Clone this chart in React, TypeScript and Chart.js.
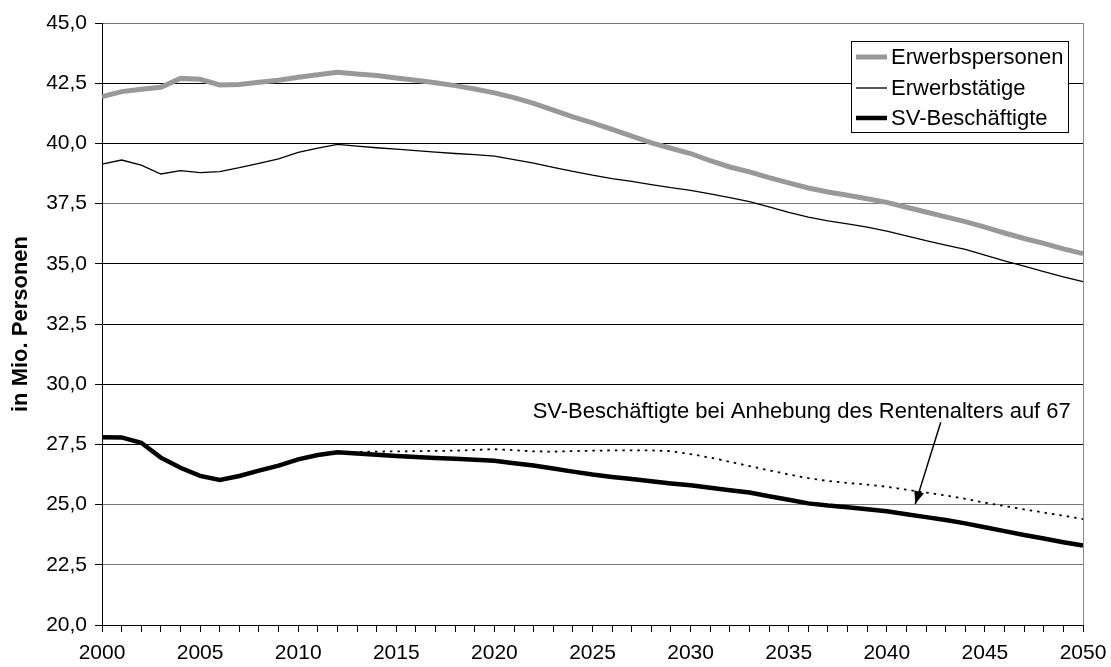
import React, { useEffect, useRef } from "react";
import { Chart, registerables } from "chart.js";

Chart.register(...registerables);

const years = [
  2000, 2001, 2002, 2003, 2004, 2005, 2006, 2007, 2008, 2009,
  2010, 2011, 2012, 2013, 2014, 2015, 2016, 2017, 2018, 2019,
  2020, 2021, 2022, 2023, 2024, 2025, 2026, 2027, 2028, 2029,
  2030, 2031, 2032, 2033, 2034, 2035, 2036, 2037, 2038, 2039,
  2040, 2041, 2042, 2043, 2044, 2045, 2046, 2047, 2048, 2049, 2050,
];

const erwerbspersonen = [
  41.94, 42.15, 42.25, 42.33, 42.70, 42.66, 42.43, 42.45, 42.54, 42.62,
  42.75, 42.85, 42.95, 42.88, 42.82, 42.72, 42.62, 42.52, 42.40, 42.26,
  42.10, 41.90, 41.66, 41.38, 41.10, 40.85, 40.58, 40.30, 40.02, 39.80,
  39.58, 39.28, 39.02, 38.82, 38.58, 38.36, 38.15, 37.98, 37.85, 37.70,
  37.55, 37.35, 37.15, 36.95, 36.75, 36.52, 36.28, 36.05, 35.85, 35.62, 35.42,
];

const erwerbstaetige = [
  39.14, 39.31, 39.10, 38.73, 38.87, 38.79, 38.83, 38.99, 39.17, 39.36,
  39.63, 39.80, 39.96, 39.89, 39.82, 39.76, 39.70, 39.64, 39.58, 39.53,
  39.47, 39.33, 39.18, 39.00, 38.84, 38.68, 38.54, 38.42, 38.29, 38.16,
  38.05, 37.90, 37.75, 37.58, 37.36, 37.14, 36.94, 36.78, 36.66, 36.52,
  36.36, 36.16, 35.96, 35.78, 35.60, 35.36, 35.12, 34.90, 34.68, 34.46, 34.26,
];

const svBeschaeftigte = [
  27.80, 27.79, 27.57, 26.95, 26.53, 26.19, 26.02, 26.19, 26.41, 26.62,
  26.88, 27.06, 27.17, 27.12, 27.07, 27.02, 26.98, 26.94, 26.90, 26.86,
  26.82, 26.72, 26.62, 26.50, 26.37, 26.25, 26.15, 26.06, 25.97, 25.88,
  25.80, 25.70, 25.60, 25.50, 25.35, 25.20, 25.05, 24.96, 24.89, 24.81,
  24.72, 24.60, 24.48, 24.36, 24.22, 24.06, 23.90, 23.74, 23.59, 23.44, 23.30,
];

const svRente67 = [
  null, null, null, null, null, null, null, null, null, null,
  null, null, 27.17, 27.19, 27.20, 27.21, 27.22, 27.23, 27.24, 27.27,
  27.30, 27.26, 27.21, 27.20, 27.22, 27.24, 27.25, 27.25, 27.25, 27.22,
  27.10, 26.95, 26.78, 26.60, 26.42, 26.25, 26.10, 25.98, 25.90, 25.83,
  25.74, 25.62, 25.50, 25.38, 25.24, 25.08, 24.94, 24.80, 24.67, 24.54, 24.40,
];

const legendLabels = ["Erwerbspersonen", "Erwerbstätige", "SV-Beschäftigte"];
const annotationText = "SV-Beschäftigte bei Anhebung des Rentenalters auf 67";
const yTitle = "in Mio. Personen";

const FONT = "'Liberation Sans', Arial, sans-serif";

const decorPlugin = {
  id: "decor",
  afterDatasetsDraw(chart: any) {
    const { ctx, chartArea, scales } = chart;
    const x = scales.x;
    const y = scales.y;
    ctx.save();
    // right border
    ctx.strokeStyle = "#888888";
    ctx.lineWidth = 1;
    ctx.beginPath();
    ctx.moveTo(Math.round(chartArea.right) + 0.5, chartArea.top);
    ctx.lineTo(Math.round(chartArea.right) + 0.5, chartArea.bottom);
    ctx.stroke();

    // annotation text
    const px = (year: number) => x.left + ((year - 2000) / 50) * (x.right - x.left);
    ctx.fillStyle = "#000";
    ctx.font = `22px ${FONT}`;
    ctx.textBaseline = "middle";
    ctx.textAlign = "left";
    ctx.fillText(annotationText, px(2021.95), y.getPixelForValue(28.85));

    // arrow
    const x1 = px(2042.75), y1 = y.getPixelForValue(28.42);
    const x2 = px(2041.45), y2 = y.getPixelForValue(25.02);
    ctx.strokeStyle = "#000";
    ctx.lineWidth = 1.5;
    ctx.beginPath();
    ctx.moveTo(x1, y1);
    ctx.lineTo(x2, y2);
    ctx.stroke();
    const ang = Math.atan2(y2 - y1, x2 - x1);
    const L = 13, W = 5;
    ctx.beginPath();
    ctx.moveTo(x2, y2);
    ctx.lineTo(x2 - L * Math.cos(ang) + W * Math.sin(ang), y2 - L * Math.sin(ang) - W * Math.cos(ang));
    ctx.lineTo(x2 - L * Math.cos(ang) - W * Math.sin(ang), y2 - L * Math.sin(ang) + W * Math.cos(ang));
    ctx.closePath();
    ctx.fillStyle = "#000";
    ctx.fill();

    // legend box
    const bx = 851, by = 41, bw = 217, bh = 91;
    ctx.fillStyle = "#fff";
    ctx.fillRect(bx, by, bw, bh);
    ctx.strokeStyle = "#000";
    ctx.lineWidth = 1;
    ctx.strokeRect(bx + 0.5, by + 0.5, bw, bh);
    const rowsY = [57, 88, 118];
    ctx.font = `22px ${FONT}`;
    ctx.textAlign = "left";
    ctx.textBaseline = "middle";
    for (let i = 0; i < 3; i++) {
      const ds = chart.data.datasets[i];
      ctx.strokeStyle = ds.borderColor;
      ctx.lineWidth = ds.borderWidth;
      ctx.beginPath();
      ctx.moveTo(856, rowsY[i]);
      ctx.lineTo(887, rowsY[i]);
      ctx.stroke();
      ctx.fillStyle = "#000";
      ctx.fillText(legendLabels[i], 891, rowsY[i] + 1);
    }
    ctx.restore();
  },
};

export default function App() {
  const ref = useRef<HTMLCanvasElement | null>(null);
  useEffect(() => {
    document.body.style.margin = "0";
    const canvas = ref.current!;
    const grayTicks = [45, 37.5, 25, 22.5];
    const chart = new Chart(canvas, {
      type: "line",
      data: {
        labels: years,
        datasets: [
          {
            label: legendLabels[0],
            data: erwerbspersonen,
            borderColor: "#999999",
            borderWidth: 5,
            pointRadius: 0,
            tension: 0,
          },
          {
            label: legendLabels[1],
            data: erwerbstaetige,
            borderColor: "#000000",
            borderWidth: 1.3,
            pointRadius: 0,
            tension: 0,
          },
          {
            label: legendLabels[2],
            data: svBeschaeftigte,
            borderColor: "#000000",
            borderWidth: 4.5,
            pointRadius: 0,
            tension: 0,
          },
          {
            label: annotationText,
            data: svRente67,
            borderColor: "#000000",
            borderWidth: 1.8,
            borderDash: [2.5, 5],
            pointRadius: 0,
            tension: 0,
            spanGaps: false,
          },
        ],
      },
      options: {
        responsive: false,
        animation: false,
        layout: { padding: { top: 23, right: 28, left: 0, bottom: 0 } },
        plugins: {
          legend: { display: false },
          tooltip: { enabled: false },
        },
        scales: {
          x: {
            type: "category",
            offset: false,
            grid: {
              display: true,
              drawOnChartArea: false,
              drawTicks: true,
              tickLength: 7,
              color: "#000",
              offset: false,
            },
            border: { display: true, color: "#000", width: 1 },
            ticks: {
              autoSkip: false,
              maxRotation: 0,
              minRotation: 0,
              padding: 9,
              color: "#000",
              font: { family: FONT, size: 21 },
              callback: function (this: any, _v: any, i: number) {
                const yr = years[i];
                return yr % 5 === 0 ? String(yr) : "";
              },
            },
            afterFit: (s: any) => {
              s.height = 42;
              s.paddingLeft = 0;
              s.paddingRight = 0;
            },
          },
          y: {
            min: 20,
            max: 45,
            grid: {
              color: (c: any) =>
                grayTicks.includes(c.tick?.value) ? "#777777" : "#000000",
              tickColor: "#000",
              tickLength: 7,
              lineWidth: 1,
            },
            border: { display: true, color: "#000", width: 1 },
            ticks: {
              stepSize: 2.5,
              padding: 8,
              color: "#000",
              font: { family: FONT, size: 21 },
              callback: (v: any) => Number(v).toFixed(1).replace(".", ","),
            },
            title: {
              display: true,
              text: yTitle,
              color: "#000",
              font: { family: FONT, size: 22, weight: "bold" },
              padding: { top: 8, bottom: 0 },
            },
            afterFit: (s: any) => {
              s.width = 102;
              s.paddingTop = 0;
              s.paddingBottom = 0;
            },
          },
        },
      },
      plugins: [decorPlugin],
    });
    return () => chart.destroy();
  }, []);
  return (
    <canvas
      ref={ref}
      width={1111}
      height={667}
      style={{ display: "block", width: 1111, height: 667 }}
    />
  );
}
